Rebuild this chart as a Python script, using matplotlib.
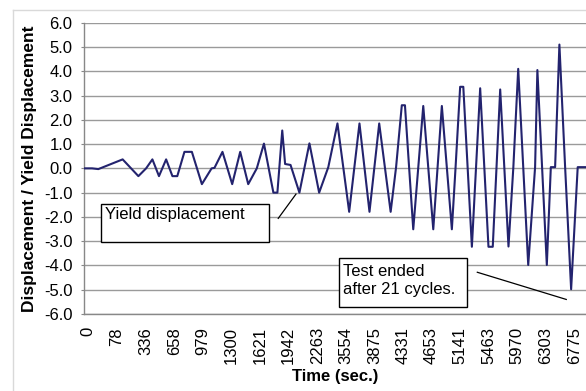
import matplotlib
matplotlib.use("Agg")
import matplotlib.pyplot as plt
from matplotlib.patches import Rectangle
from matplotlib.lines import Line2D

plt.rcParams["font.family"] = ["Liberation Sans", "DejaVu Sans"]

# category labels on the time axis (every n-th sample)
time_labels = ["0", "78", "336", "658", "979", "1300", "1621", "1942", "2263",
               "3554", "3875", "4331", "4653", "5141", "5463", "5970", "6303", "6775"]

# vertices of the displacement trace, x in label-interval units
pos = [-0.14, 0.13, 0.35, 1.20, 1.75, 2.02, 2.24, 2.47, 2.72, 2.94, 3.11,
       3.36, 3.62, 3.97, 4.31, 4.41, 4.69, 5.03, 5.31, 5.59, 5.89, 6.14,
       6.47, 6.61, 6.78, 6.88, 7.07, 7.38, 7.73, 8.07, 8.39, 8.71, 9.12,
       9.48, 9.83, 10.17, 10.57, 10.76, 10.96, 11.07, 11.36, 11.71, 12.06,
       12.36, 12.71, 12.84, 13.00, 13.11, 13.41, 13.70, 13.99, 14.14, 14.40,
       14.69, 14.86, 15.03, 15.38, 15.62, 15.70, 16.03, 16.17, 16.32, 16.47,
       16.67, 16.88, 17.11, 17.40]
disp = [0.0, 0.0, -0.03, 0.37, -0.32, 0.0, 0.37, -0.32, 0.37, -0.32, -0.32,
        0.68, 0.68, -0.65, 0.0, 0.02, 0.68, -0.65, 0.68, -0.65, 0.0, 1.02,
        -1.0, -1.0, 1.56, 0.18, 0.14, -1.0, 1.03, -1.0, 0.05, 1.85, -1.79,
        1.85, -1.79, 1.85, -1.79, 0.05, 2.60, 2.60, -2.51, 2.57, -2.51,
        2.57, -2.51, 0.05, 3.36, 3.36, -3.23, 3.30, -3.23, -3.23, 3.25,
        -3.22, 0.05, 4.10, -3.98, 0.05, 4.05, -3.98, 0.05, 0.05, 5.10,
        0.05, -4.98, 0.05, 0.05]

y_ticks = [-6, -5, -4, -3, -2, -1, 0, 1, 2, 3, 4, 5, 6]

fig = plt.figure(figsize=(5.86, 3.91), dpi=100)
ax = fig.add_axes([0.1439, 0.1969, 0.8561, 0.745])

ax.set_xlim(-0.14, 17.40)
ax.set_ylim(-6, 6)
ax.set_yticks(y_ticks)
ax.set_yticklabels([f"{v:.1f}" for v in y_ticks])
ax.set_xticks(range(len(time_labels)))
ax.set_xticklabels(time_labels, rotation=90)

ax.grid(axis="y", color="#9a9a9a", linewidth=1.0)
ax.set_axisbelow(True)
for s in ["top", "right"]:
    ax.spines[s].set_visible(False)
for s in ["left", "bottom"]:
    ax.spines[s].set_color("#888888")
    ax.spines[s].set_linewidth(1.0)
ax.tick_params(axis="y", length=2.5, width=0.8, color="#888888", pad=6, labelsize=12)
ax.tick_params(axis="x", length=0, pad=9.5, labelsize=12)

ax.plot(pos, disp, color="#23236e", linewidth=1.5, solid_joinstyle="round", zorder=3)

ax.set_xlabel("Time (sec.)", fontsize=12, fontweight="bold", labelpad=3)
ax.set_ylabel("Displacement / Yield Displacement", fontsize=12.5, fontweight="bold", labelpad=5)

# callout: yield displacement
ax.add_patch(Rectangle((0.43, -3.02), 5.90, 1.55, facecolor="white",
                       edgecolor="black", linewidth=1.0, zorder=4))
ax.text(0.60, -1.92, "Yield displacement", fontsize=12, va="center", ha="left", zorder=5)
ax.plot([6.64, 7.26], [-2.06, -1.06], color="black", linewidth=0.9, zorder=4)

# callout: end of test
ax.add_patch(Rectangle((8.78, -5.70), 4.47, 1.99, facecolor="white",
                       edgecolor="black", linewidth=1.0, zorder=4))
ax.text(8.92, -4.62, "Test ended\nafter 21 cycles.", fontsize=12, va="center",
        ha="left", linespacing=1.25, zorder=5)
ax.plot([13.60, 16.71], [-4.28, -5.40], color="black", linewidth=0.9, zorder=4)

# light chart-area frame
fx, fy = 13 / 586, 1 - 10 / 391
fig.add_artist(Line2D([fx, 1], [fy, fy], color="#d9d9d9", linewidth=1.0))
fig.add_artist(Line2D([fx, fx], [0, fy], color="#d9d9d9", linewidth=1.0))

fig.savefig("out.png", dpi=100, facecolor="white")
